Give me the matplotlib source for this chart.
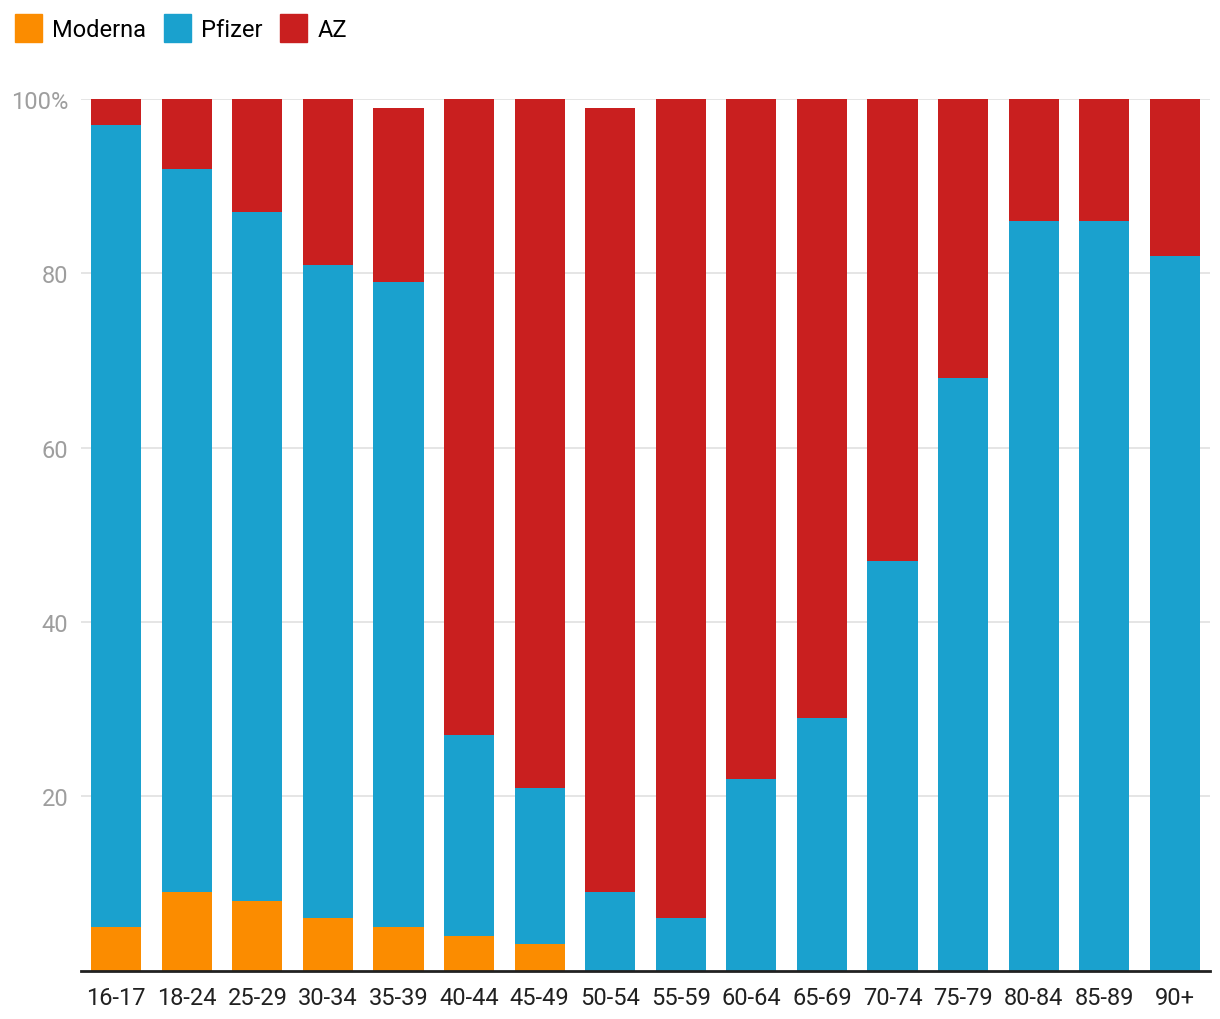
import numpy as np
import matplotlib.pyplot as plt
from matplotlib.patches import Patch

plt.rcParams['font.family'] = ['Roboto', 'DejaVu Sans']

age_groups = ['16-17', '18-24', '25-29', '30-34', '35-39', '40-44', '45-49', '50-54',
              '55-59', '60-64', '65-69', '70-74', '75-79', '80-84', '85-89', '90+']
moderna = [5, 9, 8, 6, 5, 4, 3, 0, 0, 0, 0, 0, 0, 0, 0, 0]
pfizer = [92, 83, 79, 75, 74, 23, 18, 9, 6, 22, 29, 47, 68, 86, 86, 82]
az = [3, 8, 13, 19, 20, 73, 79, 90, 94, 78, 71, 53, 32, 14, 14, 18]

series_names = ['Moderna', 'Pfizer', 'AZ']
colors = ['#FB8C00', '#1AA1CE', '#C91F1F']

fig = plt.figure(figsize=(12.2, 10.2), dpi=100)
ax = fig.add_axes([0.0664, 0.0475, 0.9254, 0.8545])

x = np.arange(len(age_groups))
bottom = np.zeros(len(age_groups))
for name, vals, col in zip(series_names, [moderna, pfizer, az], colors):
    ax.bar(x, vals, bottom=bottom, width=0.71, color=col, zorder=2, label=name)
    bottom += np.array(vals)

ax.set_xlim(-0.5, len(age_groups) - 0.5)
ax.set_ylim(0, 100)
ax.set_yticks([20, 40, 60, 80, 100])
ax.set_yticklabels(['20', '40', '60', '80', '100%'])
ax.yaxis.grid(True, color='#e0e0e0', linewidth=1.2, zorder=0)
ax.set_xticks(x)
ax.set_xticklabels(age_groups)
ax.tick_params(axis='y', length=0, labelsize=17, labelcolor='#9e9e9e', pad=9)
ax.tick_params(axis='x', length=0, labelsize=17, labelcolor='#212121', pad=11)
for s in ['top', 'right', 'left']:
    ax.spines[s].set_visible(False)
ax.spines['bottom'].set_color('#212121')
ax.spines['bottom'].set_linewidth(2)
ax.spines['bottom'].set_zorder(3)

handles = [Patch(color=c, label=n) for n, c in zip(series_names, colors)]
fig.legend(handles=handles, loc='upper left', bbox_to_anchor=(0.0, 1.0), ncol=3,
           frameon=False, fontsize=17, handlelength=1.14, handleheight=1.45,
           handletextpad=0.42, columnspacing=0.76, borderaxespad=0.3,
           borderpad=0.35)

fig.savefig('out.png', dpi=100)
